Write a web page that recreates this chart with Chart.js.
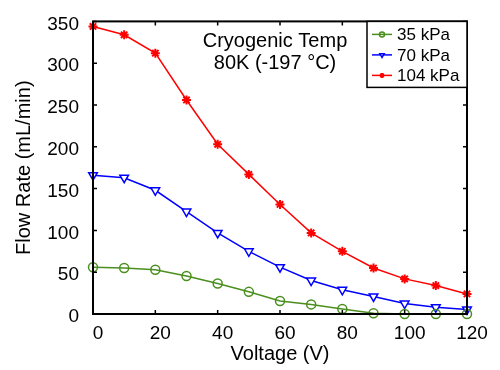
<!DOCTYPE html>
<html>
<head>
<meta charset="utf-8">
<script src="https://cdn.jsdelivr.net/npm/chart.js@4/dist/chart.umd.min.js"></script>
<style>
  html, body { margin: 0; padding: 0; background: #fff; }
  #wrap { width: 500px; height: 370px; }
</style>
</head>
<body>
<div id="wrap"><canvas id="chart" width="500" height="370"></canvas></div>
<script>
// Datos
const voltage = [0, 10, 20, 30, 40, 50, 60, 70, 80, 90, 100, 110, 120];
const flow35 = [56, 55, 53, 45.5, 36.5, 26.5, 15.5, 11.5, 6, 1, 0, 0, 0];
const flow70 = [166, 163, 148, 122.5, 97, 75, 56, 40, 29, 21, 12.5, 8, 5.5];
const flow104 = [344, 334, 312, 256, 203, 167, 131, 97, 75, 55, 42, 34, 24];
const seriesLabels = ['35 kPa', '70 kPa', '104 kPa'];
const annotation = ['Cryogenic Temp', '80K (-197 °C)'];

const FONT = '"Liberation Sans", Arial, sans-serif';
const green = '#4b8f1f';

function toPoints(ys) {
    return voltage.map((v, i) => ({ x: v, y: ys[i] }));
}

// Marco, marcas hacia dentro, anotación y leyenda
const framePlugin = {
    id: 'frame',
    afterDraw(chart) {
        const ctx = chart.ctx;
        const a = chart.chartArea;
        const xs = chart.scales.x;
        const ys = chart.scales.y;
        ctx.save();
        ctx.strokeStyle = '#000';
        ctx.lineWidth = 1.5;
        // marcas
        ctx.beginPath();
        xs.ticks.forEach(t => {
            const px = xs.getPixelForValue(t.value);
            ctx.moveTo(px, a.bottom); ctx.lineTo(px, a.bottom - 4);
            ctx.moveTo(px, a.top); ctx.lineTo(px, a.top + 4);
        });
        ys.ticks.forEach(t => {
            const py = ys.getPixelForValue(t.value);
            ctx.moveTo(a.left, py); ctx.lineTo(a.left + 4, py);
            ctx.moveTo(a.right, py); ctx.lineTo(a.right - 4, py);
        });
        ctx.stroke();
        ctx.lineWidth = 2;
        ctx.strokeRect(a.left, a.top, a.right - a.left, a.bottom - a.top);

        // anotación
        ctx.fillStyle = '#000';
        ctx.font = '20px ' + FONT;
        ctx.textAlign = 'center';
        ctx.textBaseline = 'middle';
        const cx = (a.left + a.right) / 2 - 5;
        ctx.fillText(annotation[0], cx, a.top + 20);
        ctx.fillText(annotation[1], cx, a.top + 42);

        // leyenda
        const bx = 367, by = a.top, bw = a.right - bx, bh = 66;
        ctx.fillStyle = '#fff';
        ctx.fillRect(bx, by, bw, bh);
        ctx.lineWidth = 1.5;
        ctx.strokeStyle = '#000';
        ctx.strokeRect(bx, by, bw, bh);
        ctx.font = '17px ' + FONT;
        ctx.textAlign = 'left';
        chart.data.datasets.forEach((ds, i) => {
            const ly = by + 13 + i * 20.5;
            ctx.strokeStyle = ds.borderColor;
            ctx.lineWidth = 1.5;
            ctx.beginPath();
            ctx.moveTo(bx + 5, ly); ctx.lineTo(bx + 25, ly);
            ctx.stroke();
            ctx.fillStyle = ds.pointBackgroundColor;
            Chart.helpers.drawPoint(ctx, {
                pointStyle: ds.pointStyle,
                rotation: ds.pointRotation || 0,
                radius: 2.5,
                borderWidth: 1.5
            }, bx + 15, ly);
            ctx.fillStyle = '#000';
            ctx.fillText(ds.label, bx + 30, ly + 1);
        });
        ctx.restore();
    }
};

new Chart(document.getElementById('chart'), {
    type: 'line',
    data: {
        datasets: [
            {
                label: seriesLabels[0],
                data: toPoints(flow35),
                borderColor: green,
                backgroundColor: 'rgba(0,0,0,0)',
                pointBackgroundColor: 'rgba(0,0,0,0)',
                pointStyle: 'circle',
                pointRadius: 4.5,
                borderWidth: 1.5,
                pointBorderWidth: 1.5
            },
            {
                label: seriesLabels[1],
                data: toPoints(flow70),
                borderColor: '#0000ff',
                backgroundColor: 'rgba(0,0,0,0)',
                pointBackgroundColor: '#fff',
                pointStyle: 'triangle',
                pointRotation: 180,
                pointRadius: 5,
                borderWidth: 1.5,
                pointBorderWidth: 1.5
            },
            {
                label: seriesLabels[2],
                data: toPoints(flow104),
                borderColor: '#ff0000',
                backgroundColor: '#ff0000',
                pointBackgroundColor: '#ff0000',
                pointStyle: 'star',
                pointRadius: 4.5,
                borderWidth: 1.5,
                pointBorderWidth: 2
            }
        ]
    },
    options: {
        responsive: false,
        animation: false,
        clip: false,
        layout: { padding: { left: 0, top: 14, right: 33, bottom: 0 } },
        plugins: {
            legend: { display: false },
            tooltip: { enabled: false }
        },
        elements: { line: { tension: 0 } },
        scales: {
            x: {
                type: 'linear',
                min: 0,
                max: 120,
                ticks: { stepSize: 20, color: '#000', font: { family: FONT, size: 19 }, padding: 4, labelOffset: 5 },
                grid: { display: false, drawTicks: true, tickLength: 4 },
                border: { display: false },
                title: { display: true, text: 'Voltage (V)', color: '#000', font: { family: FONT, size: 20 }, padding: { top: 0 } },
                afterFit: s => { s.height = 56; }
            },
            y: {
                min: 0,
                max: 350,
                ticks: { stepSize: 50, color: '#000', font: { family: FONT, size: 19 }, padding: 10, labelOffset: 3 },
                grid: { display: false, tickLength: 4 },
                border: { display: false },
                title: { display: true, text: 'Flow Rate (mL/min)', color: '#000', font: { family: FONT, size: 20 }, padding: { top: 12, bottom: 0 } },
                afterFit: s => { s.width = 93; }
            }
        }
    },
    plugins: [framePlugin]
});
</script>
</body>
</html>
